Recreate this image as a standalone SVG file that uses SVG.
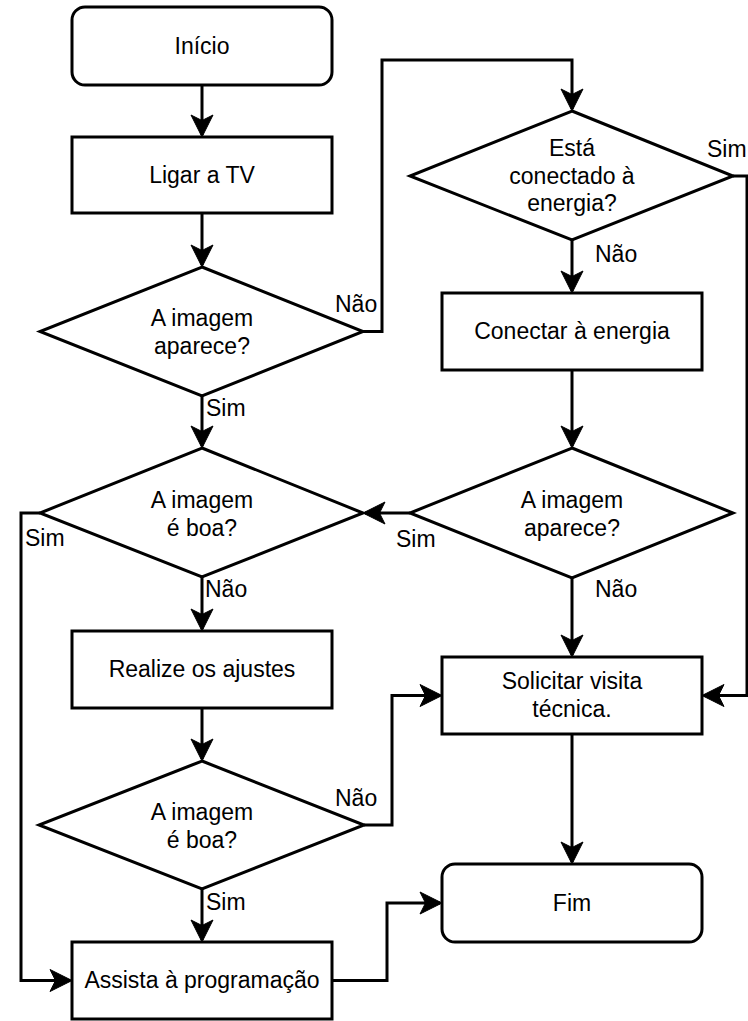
<svg xmlns="http://www.w3.org/2000/svg" width="748" height="1021" viewBox="0 0 748 1021">
<style>
.s{fill:#fff;stroke:#000;stroke-width:3}
.c{fill:none;stroke:#000;stroke-width:3;marker-end:url(#a)}
text{font-family:"Liberation Sans",Arial,sans-serif;font-size:23px;fill:#000}
.m{text-anchor:middle}
</style>
<defs>
<marker id="a" viewBox="-21 -12 24 24" markerWidth="24" markerHeight="24" refX="0" refY="0" orient="auto" markerUnits="userSpaceOnUse">
<path d="M2,0 L-20,-11 L-14.5,0 L-20,11 Z" fill="#000" stroke="#000" stroke-width="1"/>
</marker>
</defs>
<rect width="748" height="1021" fill="#fff"/>
<g id="connectors">
<path class="c" d="M202,85 V135"/>
<path class="c" d="M202,213 V265"/>
<path class="c" d="M202,396 V446"/>
<path class="c" d="M363,331.5 H382 V60 H572 V109"/>
<path class="c" d="M733,176 H747 V695.5 H704"/>
<path class="c" d="M572,240 V291"/>
<path class="c" d="M572,370 V446"/>
<path class="c" d="M410,513 H365"/>
<path class="c" d="M572,578 V655"/>
<path class="c" d="M40,513 H21 V980.5 H70"/>
<path class="c" d="M202,577 V629"/>
<path class="c" d="M202,708 V759"/>
<path class="c" d="M364,825 H392 V695.5 H440"/>
<path class="c" d="M202,889 V940"/>
<path class="c" d="M332,980.5 H387 V903 H440"/>
<path class="c" d="M572,734 V862"/>
<text x="206" y="416">Sim</text>
<text x="335" y="312">Não</text>
<text x="707" y="157">Sim</text>
<text x="595" y="262">Não</text>
<text x="396" y="547">Sim</text>
<text x="595" y="597">Não</text>
<text x="25" y="546">Sim</text>
<text x="205" y="597">Não</text>
<text x="335" y="806">Não</text>
<text x="206" y="910">Sim</text>
</g>
<g id="inicio"><rect class="s" x="72" y="7" width="260" height="78" rx="13"/><text class="m" x="202" y="54">Início</text></g>
<g id="ligar"><rect class="s" x="72" y="137" width="260" height="76"/><text class="m" x="202" y="183">Ligar a TV</text></g>
<g id="d1"><polygon class="s" points="202,267 363,331.5 202,396 40,331.5"/><text class="m" x="202" y="326">A imagem</text><text class="m" x="202" y="354">aparece?</text></g>
<g id="d2"><polygon class="s" points="202,448 363,513 202,577 40,513"/><text class="m" x="202" y="508">A imagem</text><text class="m" x="202" y="536">é boa?</text></g>
<g id="realize"><rect class="s" x="72" y="631" width="260" height="77"/><text class="m" x="202" y="677">Realize os ajustes</text></g>
<g id="d5"><polygon class="s" points="202,761 364,825 202,889 39,825"/><text class="m" x="202" y="820">A imagem</text><text class="m" x="202" y="848">é boa?</text></g>
<g id="assista"><rect class="s" x="72" y="942" width="260" height="77"/><text class="m" x="202" y="988">Assista à programação</text></g>
<g id="d3"><polygon class="s" points="572,111 733,176 572,240 410,176"/><text class="m" x="572" y="156">Está</text><text class="m" x="572" y="183.5">conectado à</text><text class="m" x="572" y="211">energia?</text></g>
<g id="conectar"><rect class="s" x="442" y="293" width="260" height="77"/><text class="m" x="572" y="339">Conectar à energia</text></g>
<g id="d4"><polygon class="s" points="572,448 733,513 572,578 410,513"/><text class="m" x="572" y="508">A imagem</text><text class="m" x="572" y="536">aparece?</text></g>
<g id="solicitar"><rect class="s" x="442" y="657" width="260" height="77"/><text class="m" x="572" y="689">Solicitar visita</text><text class="m" x="572" y="717">técnica.</text></g>
<g id="fim"><rect class="s" x="442" y="864" width="260" height="78" rx="13"/><text class="m" x="572" y="911">Fim</text></g>
</svg>
